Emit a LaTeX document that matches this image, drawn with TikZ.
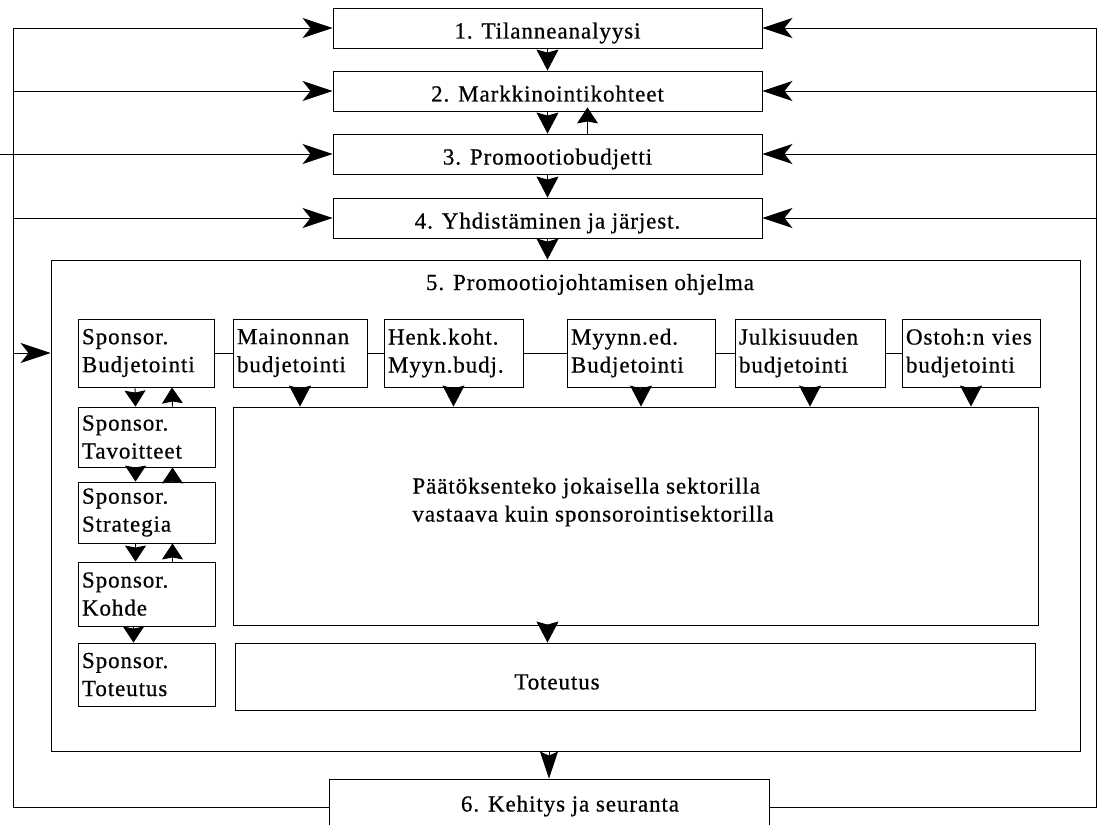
\documentclass[tikz,border=0pt]{standalone}
\usepackage{fontspec}
\setmainfont{Liberation Serif}[LetterSpace=4, FakeBold=0.6]
\usetikzlibrary{arrows.meta, positioning, calc}

\begin{document}
\begin{tikzpicture}[x=1pt, y=-1pt, line width=0.9pt,
      font=\fontsize{23}{28}\selectfont,
      phase/.style={draw, minimum width=429pt, minimum height=40pt,
                    text height=21pt, text depth=0pt, inner sep=3pt},
      budget/.style={draw, minimum height=68pt, align=left, inner sep=4pt},
      spon/.style={draw, text width=129pt, align=left, inner sep=4pt},
      area/.style={draw, inner sep=0pt},
      lbl/.style={align=left, inner sep=0pt},
      tip/.style={-{Stealth[length=21pt, width=22pt, inset=3pt]}},
      shorttip/.style={-{Stealth[length=16pt, width=21pt, inset=2pt]}},
      longtip/.style={-{Stealth[length=27pt, width=18pt, inset=4pt]}},
      sidetip/.style={-{Stealth[length=30pt, width=20pt, inset=8pt]}}]
    \useasboundingbox (0,0) rectangle (1099,824);
    \clip (0,0) rectangle (1099,824);
    \node[phase] (p1) at (547.5,28) {1. Tilanneanalyysi};
    \node[phase] (p2) at (547.5,91) {2. Markkinointikohteet};
    \node[phase] (p3) at (547.5,154) {3. Promootiobudjetti};
    \node[phase] (p4) at (547.5,218) {4. Yhdistäminen ja järjest.};
    \node[area, minimum width=1029pt, minimum height=491pt] (p5) at (565.5,505.5) {};
    \node[lbl, anchor=base] (p5t) at (590,290) {5. Promootiojohtamisen ohjelma};
    \node[budget, text width=128pt] (sb) at (146,353) {Sponsor.\\Budjetointi};
    \node[budget, text width=126pt] (mb) at (300,353) {Mainonnan\\budjetointi};
    \node[budget, text width=131pt] (hb) at (453.5,353) {Henk.koht.\\Myyn.budj.};
    \node[budget, text width=140pt] (yb) at (641,353) {Myynn.ed.\\Budjetointi};
    \node[budget, text width=142pt] (jb) at (810,353) {Julkisuuden\\budjetointi};
    \node[budget, text width=130pt] (ob) at (971,353) {Ostoh:n vies\\budjetointi};
    \node[spon, minimum height=60pt] (st) at (146.5,437) {Sponsor.\\Tavoitteet};
    \node[spon, minimum height=61pt] (ss) at (146.5,512.5) {Sponsor.\\Strategia};
    \node[spon, minimum height=64pt] (sk) at (146.5,594) {Sponsor.\\Kohde};
    \node[spon, minimum height=63pt] (sto) at (146.5,674.5) {Sponsor.\\Toteutus};
    \node[area, minimum width=805pt, minimum height=218pt] (dec) at (635.5,516) {};
    \node[lbl, anchor=west] (dect) at (412,502)
      {Päätöksenteko jokaisella sektorilla\\vastaava kuin sponsorointisektorilla};
    \node[area, minimum width=800pt, minimum height=67pt] (tot) at (635,676.5) {};
    \node[lbl] (tott) at (557,682) {Toteutus};
    \node[area, minimum width=440pt, minimum height=56pt] (p6) at (549,807) {};
    \node[lbl] (p6t) at (570,806) {6. Kehitys ja seuranta};
    \coordinate (lft) at (13,807);
    \coordinate (rgt) at (1096,807);
    \coordinate (edge) at (0,0);
    % planning chain
    \foreach \a/\b in {p1/p2, p2/p3, p3/p4}
      \draw[tip] (\a.south) -- (\b.north);
    \draw[shorttip] ([xshift=40pt]p3.north) -- ([xshift=40pt,yshift=4pt]p2.south);
    \draw[tip] (p4.south) -- (p4.south |- p5.north);
    % feedback loops
    \draw[sidetip] (p6.west) -| (lft |- p1.west) -- (p1.west);
    \foreach \b in {p2,p4}
      \draw[sidetip] (lft |- \b.west) -- (\b.west);
    \draw[sidetip] (edge |- p3.west) -- (p3.west);
    \draw[sidetip] (lft |- sb.west) -- (p5.west |- sb.west);
    \draw[sidetip] (p6.east) -| (rgt |- p1.east) -- (p1.east);
    \foreach \b in {p2,p3,p4}
      \draw[sidetip] (rgt |- \b.east) -- (\b.east);
    % budgeting row
    \foreach \a/\b in {sb/mb, mb/hb, hb/yb, yb/jb, jb/ob}
      \draw (\a) -- (\b);
    \foreach \b in {mb,hb,yb,jb,ob}
      \draw[tip] (\b.south) -- (\b.south |- dec.north);
    \foreach \a/\b in {sb/st, st/ss, ss/sk} {
      \draw[shorttip] ([xshift=-11pt]\a.south) -- ([xshift=-11pt]\b.north);
      \draw[shorttip] ([xshift=26pt]\b.north) -- ([xshift=26pt]\a.south);
    }
    \draw[shorttip] ([xshift=-13pt]sk.south) -- ([xshift=-13pt]sto.north);
    \draw[tip] (dec.south -| p4.south) -- (tot.north -| p4.south);
    \draw[longtip] (p5.south -| p6.north) -- (p6.north);
  \end{tikzpicture}
\end{document}
